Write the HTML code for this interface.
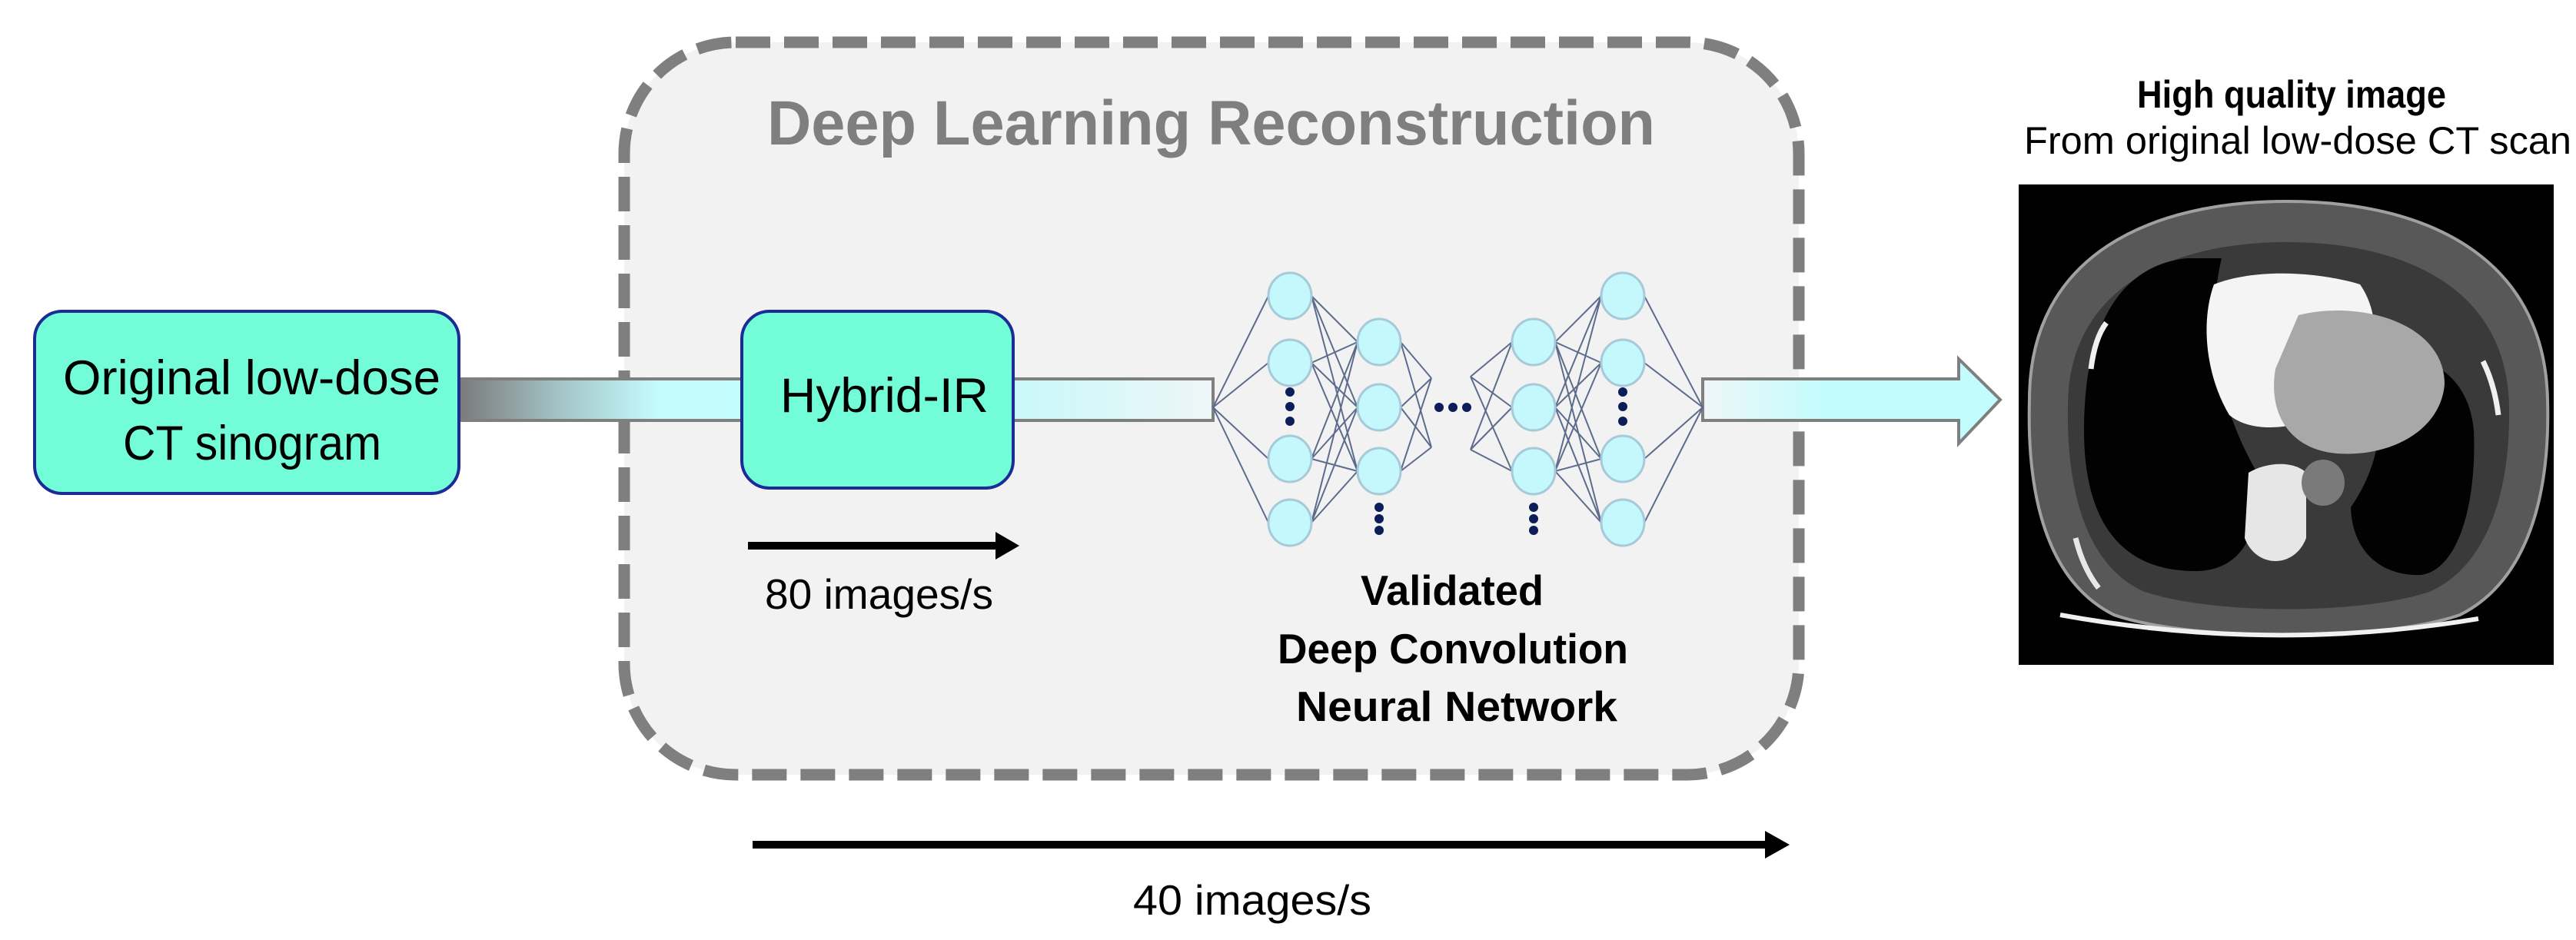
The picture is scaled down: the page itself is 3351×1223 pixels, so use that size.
<!DOCTYPE html>
<html><head><meta charset="utf-8"><style>
html,body{margin:0;padding:0;background:#fff;}
svg{display:block;}
text{font-family:"Liberation Sans",sans-serif;}
</style></head><body>
<svg width="3351" height="1223" viewBox="0 0 3351 1223" xmlns="http://www.w3.org/2000/svg">
<defs>
<linearGradient id="g1" x1="597" y1="0" x2="965" y2="0" gradientUnits="userSpaceOnUse">
<stop offset="0" stop-color="#7a7a7a"/><stop offset="0.35" stop-color="#a3c3c6"/><stop offset="0.7" stop-color="#c4fbfd"/><stop offset="1" stop-color="#c4fdfd"/>
</linearGradient>
<linearGradient id="g2" x1="1318" y1="0" x2="1578" y2="0" gradientUnits="userSpaceOnUse">
<stop offset="0" stop-color="#c8f8fa"/><stop offset="1" stop-color="#eef6f7"/>
</linearGradient>
<linearGradient id="g3" x1="2215" y1="0" x2="2380" y2="0" gradientUnits="userSpaceOnUse">
<stop offset="0" stop-color="#eef6f7"/><stop offset="1" stop-color="#c2fcfd"/>
</linearGradient>
</defs>
<rect x="812" y="55" width="1528" height="953" rx="145" fill="#f2f2f2" stroke="#7f7f7f" stroke-width="15" stroke-dasharray="45 18"/>
<text x="998" y="188" font-size="82" font-weight="bold" fill="#7f7f7f" textLength="1155" lengthAdjust="spacingAndGlyphs">Deep Learning Reconstruction</text>

<rect x="597" y="493" width="370" height="54" fill="url(#g1)" stroke="#7f7f7f" stroke-width="4"/>
<rect x="1316" y="493" width="262" height="54" fill="url(#g2)" stroke="#7f7f7f" stroke-width="4"/>
<polygon points="2215,493 2548,493 2548,467 2602,520 2548,577 2548,547 2215,547" fill="url(#g3)" stroke="#7f7f7f" stroke-width="4"/>

<rect x="45" y="405" width="552" height="237" rx="36" fill="#72fcd8" stroke="#1c2b96" stroke-width="4"/>
<text x="82" y="513" font-size="63" fill="#000" textLength="491" lengthAdjust="spacingAndGlyphs">Original low-dose</text>
<text x="160" y="598" font-size="63" fill="#000" textLength="336" lengthAdjust="spacingAndGlyphs">CT sinogram</text>
<rect x="965" y="405" width="353" height="230" rx="36" fill="#72fcd8" stroke="#1c2b96" stroke-width="4"/>
<text x="1015" y="536" font-size="63" fill="#000" textLength="271" lengthAdjust="spacingAndGlyphs">Hybrid-IR</text>

<g stroke="#5d6b8c" stroke-width="2" fill="none">
<path d="M1578 530 L1650 385 M1578 530 L1650 472 M1578 530 L1650 597 M1578 530 L1650 680"/>
<path d="M1706 385 L1766 445 M1706 385 L1766 530 M1706 385 L1766 613
M1706 472 L1766 445 M1706 472 L1766 530 M1706 472 L1766 613
M1706 597 L1766 445 M1706 597 L1766 530 M1706 597 L1766 613
M1706 680 L1766 445 M1706 680 L1766 530 M1706 680 L1766 613"/>
<path d="M1822 445 L1862 492 M1822 530 L1862 492 M1822 613 L1862 492 M1822 445 L1862 582 M1822 530 L1862 582 M1822 613 L1862 582"/>
<path d="M1913 490 L1967 445 M1913 490 L1967 530 M1913 490 L1967 613 M1913 585 L1967 445 M1913 585 L1967 530 M1913 585 L1967 613"/>
<path d="M2023 445 L2083 385 M2023 445 L2083 472 M2023 445 L2083 597 M2023 445 L2083 680
M2023 530 L2083 385 M2023 530 L2083 472 M2023 530 L2083 597 M2023 530 L2083 680
M2023 613 L2083 385 M2023 613 L2083 472 M2023 613 L2083 597 M2023 613 L2083 680"/>
<path d="M2139 385 L2215 530 M2139 472 L2215 530 M2139 597 L2215 530 M2139 680 L2215 530"/>
</g>
<g fill="#c4f8fc" stroke="#a6cad8" stroke-width="3">
<ellipse cx="1678" cy="385" rx="28" ry="30"/><ellipse cx="1678" cy="472" rx="28" ry="30"/><ellipse cx="1678" cy="597" rx="28" ry="30"/><ellipse cx="1678" cy="680" rx="28" ry="30"/>
<ellipse cx="1794" cy="445" rx="28" ry="30"/><ellipse cx="1794" cy="530" rx="28" ry="30"/><ellipse cx="1794" cy="613" rx="28" ry="30"/>
<ellipse cx="1995" cy="445" rx="28" ry="30"/><ellipse cx="1995" cy="530" rx="28" ry="30"/><ellipse cx="1995" cy="613" rx="28" ry="30"/>
<ellipse cx="2111" cy="385" rx="28" ry="30"/><ellipse cx="2111" cy="472" rx="28" ry="30"/><ellipse cx="2111" cy="597" rx="28" ry="30"/><ellipse cx="2111" cy="680" rx="28" ry="30"/>
</g>
<g fill="#0d1d5a">
<circle cx="1678" cy="510" r="6"/><circle cx="1678" cy="529" r="6"/><circle cx="1678" cy="548" r="6"/>
<circle cx="2111" cy="510" r="6"/><circle cx="2111" cy="529" r="6"/><circle cx="2111" cy="548" r="6"/>
<circle cx="1794" cy="660" r="6"/><circle cx="1794" cy="675" r="6"/><circle cx="1794" cy="690" r="6"/>
<circle cx="1995" cy="660" r="6"/><circle cx="1995" cy="675" r="6"/><circle cx="1995" cy="690" r="6"/>
<circle cx="1872" cy="530" r="6"/><circle cx="1890" cy="530" r="6"/><circle cx="1908" cy="530" r="6"/>
</g>
<text x="1770" y="787" font-size="55" font-weight="bold" textLength="238" lengthAdjust="spacingAndGlyphs">Validated</text>
<text x="1662" y="863" font-size="55" font-weight="bold" textLength="456" lengthAdjust="spacingAndGlyphs">Deep Convolution</text>
<text x="1686" y="938" font-size="55" font-weight="bold" textLength="418" lengthAdjust="spacingAndGlyphs">Neural Network</text>

<line x1="973" y1="710" x2="1300" y2="710" stroke="#000" stroke-width="10"/>
<polygon points="1295,692 1326,710 1295,728" fill="#000"/>
<text x="995" y="792" font-size="55" textLength="297" lengthAdjust="spacingAndGlyphs">80 images/s</text>
<line x1="979" y1="1099" x2="2300" y2="1099" stroke="#000" stroke-width="10"/>
<polygon points="2296,1081 2328,1099 2296,1117" fill="#000"/>
<text x="1474" y="1190" font-size="55" textLength="310" lengthAdjust="spacingAndGlyphs">40 images/s</text>

<text x="2981" y="140" font-size="50" font-weight="bold" text-anchor="middle" textLength="402" lengthAdjust="spacingAndGlyphs">High quality image</text>
<text x="2633" y="200" font-size="50" textLength="712" lengthAdjust="spacingAndGlyphs">From original low-dose CT scan</text>
<rect x="2626" y="240" width="696" height="625" fill="#000"/>
<g>
<path d="M2640 520 C2640 330 2800 262 2975 262 C3150 262 3310 330 3314 520 C3318 660 3280 760 3200 800 C3100 835 2850 835 2750 800 C2670 760 2636 660 2640 520 Z" fill="#585858" stroke="#a0a0a0" stroke-width="4"/>
<path d="M2690 530 C2690 370 2830 315 2975 315 C3120 315 3262 370 3264 530 C3266 650 3230 740 3160 770 C3070 800 2880 800 2790 770 C2720 740 2688 650 2690 530 Z" fill="#3a3a3a"/>
<path d="M2711 560 C2711 420 2760 345 2845 336 L2890 336 C2870 420 2880 520 2939 620 C2939 690 2920 740 2860 743 C2760 745 2711 680 2711 560 Z" fill="#020202"/>
<path d="M3070 470 C3130 450 3210 470 3218 560 C3222 650 3200 740 3150 748 C3100 750 3060 720 3058 660 C3100 600 3110 520 3070 470 Z" fill="#020202"/>
<path d="M2880 370 C2930 350 3010 352 3070 370 C3105 420 3090 500 3040 530 C2990 560 2930 565 2900 540 C2870 490 2862 420 2880 370 Z" fill="#f4f4f4"/>
<path d="M2990 410 C3070 390 3180 420 3180 500 C3175 560 3110 595 3040 590 C2980 585 2950 540 2960 480 Z" fill="#a8a8a8"/>
<path d="M2925 615 C2950 600 2985 600 3000 615 L3000 700 C2985 740 2935 740 2920 700 Z" fill="#e6e6e6"/>
<ellipse cx="3022" cy="628" rx="28" ry="30" fill="#7a7a7a"/>
<path d="M2740 420 Q2725 440 2720 480" stroke="#f0f0f0" stroke-width="7" fill="none"/>
<path d="M3230 470 Q3245 500 3250 540" stroke="#f0f0f0" stroke-width="7" fill="none"/>
<path d="M2700 700 Q2710 740 2730 765" stroke="#e8e8e8" stroke-width="7" fill="none"/>
<path d="M2680 800 Q2955 850 3224 805" stroke="#f0f0f0" stroke-width="6" fill="none"/>
</g>
</svg>
</body></html>
